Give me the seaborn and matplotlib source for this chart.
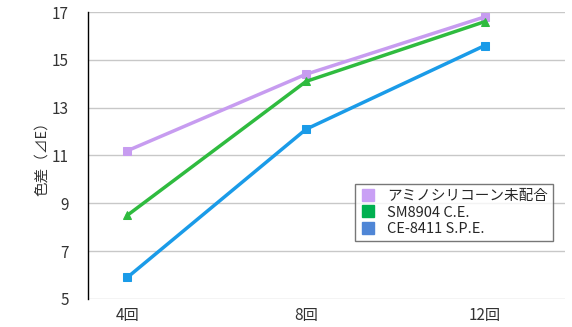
import pandas as pd
import seaborn as sns
import matplotlib.pyplot as plt
from matplotlib.lines import Line2D

# データ
kaisu = ["4回", "8回", "12回"]
series_names = ["アミノシリコーン未配合", "SM8904 C.E.", "CE-8411 S.P.E."]
amino_none = [11.2, 14.4, 16.8]
sm8904 = [8.5, 14.1, 16.6]
ce8411 = [5.9, 12.1, 15.6]

line_colors = ["#c79cf0", "#2fbb3f", "#1a9be8"]
legend_colors = ["#c9a0f5", "#00b050", "#4f86d6"]
markers = ["s", "^", "s"]

df = pd.DataFrame({
    "回数": kaisu * 3,
    "x": list(range(len(kaisu))) * 3,
    "色差": amino_none + sm8904 + ce8411,
    "系列": [n for n in series_names for _ in kaisu],
})

sns.set_theme(style="white")
plt.rcParams['font.family'] = ['Noto Sans CJK JP', 'DejaVu Sans']

fig = plt.figure(figsize=(5.72, 3.27), dpi=100)
ax = fig.add_axes([0.154, 0.086, 0.834, 0.877])

for name, col, mk in zip(series_names, line_colors, markers):
    sub = df[df["系列"] == name]
    sns.lineplot(data=sub, x="x", y="色差", color=col, marker=mk, markersize=6,
                 markeredgecolor=col, linewidth=2.5, ax=ax, legend=False)

ax.set_xlim(-0.22, 2.45)
ax.set_ylim(5, 17)
ax.set_yticks(range(5, 18, 2))
ax.set_xticks(range(len(kaisu)))
ax.set_xticklabels(kaisu, fontsize=11, color="#333333")
ax.tick_params(axis="y", labelsize=11, colors="#333333", length=0, pad=14)
ax.tick_params(axis="x", length=0, pad=6)
ax.yaxis.grid(True, color="#c8c8c8", linewidth=1)
ax.set_axisbelow(True)
for s in ["top", "right", "bottom"]:
    ax.spines[s].set_visible(False)
ax.spines["left"].set_color("black")
ax.spines["left"].set_linewidth(1)
ax.set_xlabel("")
ax.set_ylabel("色差（⊿E）", fontsize=10.5, color="#333333", labelpad=2)

handles = [Line2D([0], [0], marker="s", linestyle="", markersize=9,
                  markerfacecolor=c, markeredgecolor=c) for c in legend_colors]
leg = ax.legend(handles, series_names, loc="upper left",
                bbox_to_anchor=(0.545, 0.425), frameon=True, fancybox=False,
                fontsize=10.5, handletextpad=0.8, borderpad=0.35, labelspacing=0.15,
                handlelength=1.0)
leg.get_frame().set_edgecolor("#555555")
leg.get_frame().set_linewidth(1)

plt.savefig("out.png", dpi=100)
